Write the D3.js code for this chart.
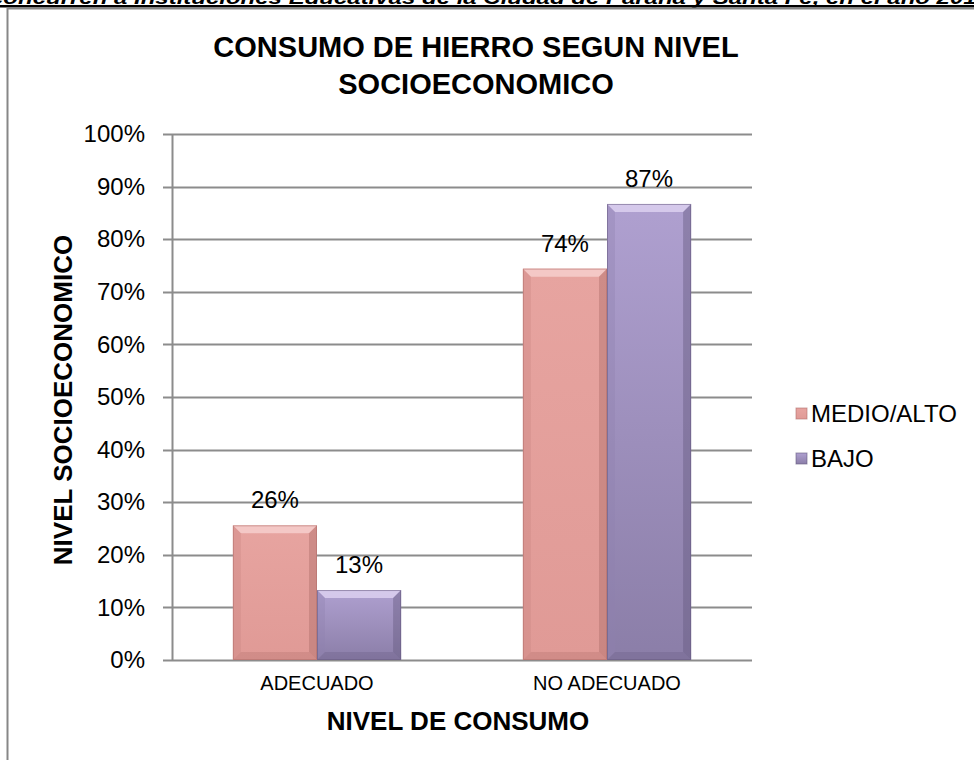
<!DOCTYPE html>
<html><head><meta charset="utf-8">
<script src="https://cdn.jsdelivr.net/npm/d3@7"></script>
<style>body{margin:0;background:#fff}svg{display:block}</style>
</head><body>
<svg id="c" width="974" height="760"></svg>
<script>
const categories = ["ADECUADO", "NO ADECUADO"];
const seriesNames = ["MEDIO/ALTO", "BAJO"];
const medioAlto = [0.256, 0.744];
const bajo = [0.133, 0.867];
const valueLabels = [["26%", "74%"], ["13%", "87%"]];
const yTicks = [0, 0.1, 0.2, 0.3, 0.4, 0.5, 0.6, 0.7, 0.8, 0.9, 1.0];
const title = ["CONSUMO DE HIERRO SEGUN NIVEL", "SOCIOECONOMICO"];
const headerText = "concurren a Instituciones Educativas de la Ciudad de Paraná y Santa Fe, en el año 2013";

const svg = d3.select("#c");
const F = "Arial, 'Liberation Sans', sans-serif";

// header text (cut off at top)
svg.append("text").attr("x", -10).attr("y", 4)
  .attr("textLength", 1000).attr("lengthAdjust", "spacingAndGlyphs")
  .attr("font-family", F).attr("font-size", 18).attr("font-weight", "bold").attr("font-style", "italic")
  .text(headerText);
svg.append("rect").attr("x", 0).attr("y", 5).attr("width", 974).attr("height", 2.5).attr("fill", "#000");

// chart border
svg.append("path").attr("d", "M7.5,760 V8.5 H974").attr("fill", "none").attr("stroke", "#878787").attr("stroke-width", 2);

const x0 = 172, x1 = 752, yTop = 134, yBot = 660;
const x = d3.scaleBand().domain(categories).range([x0, x1]).paddingInner(0.42).paddingOuter(0.21);
const xs = d3.scaleBand().domain(seriesNames).range([0, x.bandwidth()]);
const y = d3.scaleLinear().domain([0, 1]).range([yBot, yTop]);

// gridlines
svg.append("g").selectAll("line").data(yTicks).join("line")
  .attr("x1", 163).attr("x2", x1).attr("y1", d => Math.round(y(d)) + 0.5).attr("y2", d => Math.round(y(d)) + 0.5)
  .attr("stroke", "#8c8c8c").attr("stroke-width", 2);

// y axis
const yAxis = svg.append("g").attr("transform", `translate(${x0},0)`)
  .call(d3.axisLeft(y).tickValues(yTicks).tickFormat(d3.format(".0%")).tickSize(0).tickPadding(27));
yAxis.select(".domain").attr("stroke", "#8c8c8c").attr("stroke-width", 2);
yAxis.selectAll("text").attr("font-family", F).attr("font-size", 24).attr("fill", "#000");

// x axis
const xAxis = svg.append("g").attr("transform", `translate(0,${yBot})`)
  .call(d3.axisBottom(x).tickSize(0).tickPadding(0));
xAxis.select(".domain").remove();
xAxis.selectAll("text").attr("y", 30).attr("dy", null).attr("font-family", F).attr("font-size", 20).attr("fill", "#000");

// defs gradients
const defs = svg.append("defs");
const colors = {
  "MEDIO/ALTO": {top: "#F6CFCC", side: "#C98480", bot: "#B06E6A", g1: "#E7A4A0", g2: "#E09A96"},
  "BAJO": {top: "#DCD0F0", side: "#8F80B0", bot: "#665A80", g1: "#AFA0D0", g2: "#8B7EA8"}
};
seriesNames.forEach((s, i) => {
  const g = defs.append("linearGradient").attr("id", "g" + i).attr("x1", 0).attr("y1", 0).attr("x2", 0).attr("y2", 1);
  g.append("stop").attr("offset", "0%").attr("stop-color", colors[s].g1);
  g.append("stop").attr("offset", "100%").attr("stop-color", colors[s].g2);
});

const seriesVals = [medioAlto, bajo];
const bars = [];
seriesNames.forEach((s, si) => {
  categories.forEach((c, ci) => {
    bars.push({s, si, c, ci, v: seriesVals[si][ci], label: valueLabels[si][ci]});
  });
});

const bg = svg.append("g");
bars.forEach(b => {
  const bx = x(b.c) + xs(b.s), bw = xs.bandwidth(), by = y(b.v), bh = yBot - by;
  const col = colors[b.s];
  const e = 8;
  const g = bg.append("g");
  g.append("rect").attr("x", bx).attr("y", by).attr("width", bw).attr("height", bh).attr("fill", `url(#g${b.si})`);
  g.append("path").attr("d", `M${bx},${by} H${bx + bw} L${bx + bw - e},${by + e} H${bx + e} Z`).attr("fill", col.top).attr("opacity", 0.85);
  g.append("path").attr("d", `M${bx},${by} L${bx + e},${by + e} V${yBot - e} L${bx},${yBot} Z`).attr("fill", col.side).attr("opacity", 0.35);
  g.append("path").attr("d", `M${bx + bw},${by} L${bx + bw - e},${by + e} V${yBot - e} L${bx + bw},${yBot} Z`).attr("fill", col.bot).attr("opacity", 0.45);
  g.append("path").attr("d", `M${bx},${yBot} L${bx + e},${yBot - e} H${bx + bw - e} L${bx + bw},${yBot} Z`).attr("fill", col.bot).attr("opacity", 0.3);
  g.append("rect").attr("x", bx + 0.5).attr("y", by + 0.5).attr("width", bw - 1).attr("height", bh - 1).attr("fill", "none").attr("stroke", col.bot).attr("stroke-opacity", 0.55).attr("stroke-width", 1);
  svg.append("text").attr("x", bx + bw / 2).attr("y", by - 17)
    .attr("text-anchor", "middle").attr("font-family", F).attr("font-size", 24).text(b.label);
});

// title
svg.append("g").selectAll("text").data(title).join("text")
  .attr("x", 476).attr("y", (d, i) => 57 + i * 37)
  .attr("text-anchor", "middle").attr("font-family", F).attr("font-size", 29).attr("font-weight", "bold").text(d => d);

// axis titles
svg.append("text").attr("transform", "translate(72,400) rotate(-90)")
  .attr("text-anchor", "middle").attr("font-family", F).attr("font-size", 26).attr("font-weight", "bold").text("NIVEL SOCIOECONOMICO");
svg.append("text").attr("x", 458).attr("y", 730)
  .attr("text-anchor", "middle").attr("font-family", F).attr("font-size", 26).attr("font-weight", "bold").text("NIVEL DE CONSUMO");

// legend
const leg = svg.append("g").selectAll("g").data(seriesNames).join("g")
  .attr("transform", (d, i) => `translate(796,${408 + i * 45})`);
leg.append("rect").attr("width", 11).attr("height", 11).attr("fill", (d, i) => `url(#g${i})`)
  .attr("stroke", d => colors[d].bot).attr("stroke-opacity", 0.6);
leg.append("text").attr("x", 15).attr("y", 6).attr("dy", "0.35em")
  .attr("font-family", F).attr("font-size", 24).text(d => d);
</script>
</body></html>
